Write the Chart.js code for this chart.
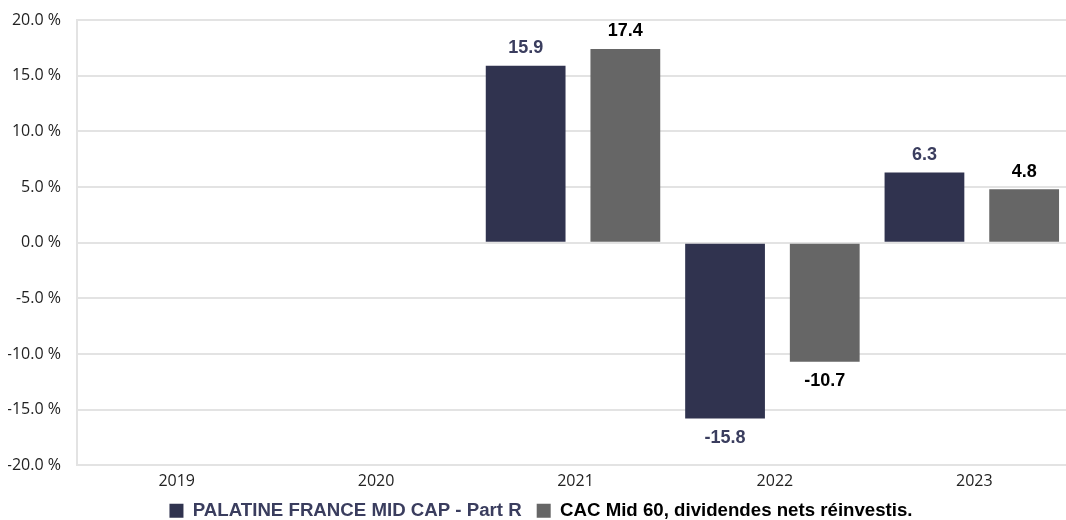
<!DOCTYPE html>
<html>
<head>
<meta charset="utf-8">
<script src="https://cdn.jsdelivr.net/npm/chart.js@4/dist/chart.umd.min.js"></script>
<style>
  html, body { margin: 0; padding: 0; background: #ffffff; overflow: hidden; }
  #wrap { position: relative; width: 1074px; height: 520px; }
  canvas { display: block; }
</style>
</head>
<body>
<div id="wrap"><canvas id="c" width="1074" height="520"></canvas></div>
<script>
const categories = ["2019", "2020", "2021", "2022", "2023"];
const fundValues = [null, null, 15.9, -15.8, 6.3];
const indexValues = [null, null, 17.4, -10.7, 4.8];
const seriesNames = ["PALATINE FRANCE MID CAP - Part R", "CAC Mid 60, dividendes nets réinvestis."];
const yTicks = [-20, -15, -10, -5, 0, 5, 10, 15, 20];

const fundColor = "#30334f";
const indexColor = "#666666";
const fundLabelColor = "#3a3d5e";
const indexLabelColor = "#000000";

const valueLabels = {
  id: "valueLabels",
  afterDatasetsDraw(chart) {
    const ctx = chart.ctx;
    ctx.save();
    ctx.font = "bold 18px 'Liberation Sans', Arial, sans-serif";
    ctx.textAlign = "center";
    ctx.textBaseline = "middle";
    chart.data.datasets.forEach((ds, di) => {
      const meta = chart.getDatasetMeta(di);
      meta.data.forEach((bar, i) => {
        const v = ds.data[i];
        if (v === null || v === undefined) return;
        ctx.fillStyle = di === 0 ? fundLabelColor : indexLabelColor;
        const y = v >= 0 ? bar.y - 17.5 : bar.y + 19;
        ctx.fillText(v.toFixed(1), bar.x, y);
      });
    });
    ctx.restore();
  }
};

new Chart(document.getElementById("c"), {
  type: "bar",
  data: {
    labels: categories,
    datasets: [
      { label: seriesNames[0], data: fundValues, backgroundColor: fundColor,
        categoryPercentage: 1.0, barPercentage: 0.80 },
      { label: seriesNames[1], data: indexValues, backgroundColor: indexColor,
        categoryPercentage: 1.0, barPercentage: 0.70 }
    ]
  },
  options: {
    responsive: false,
    animation: false,
    devicePixelRatio: 1,
    layout: { padding: { top: 20, right: 0, left: 8, bottom: -10 } },
    plugins: {
      tooltip: { enabled: false },
      legend: {
        position: "bottom",
        labels: {
          boxWidth: 14, boxHeight: 14, padding: 15,
          font: { family: "'Liberation Sans', Arial, sans-serif", size: 18.67, weight: "bold" },
          generateLabels(chart) {
            const items = Chart.defaults.plugins.legend.labels.generateLabels(chart);
            items.forEach((it, i) => { it.fontColor = i === 0 ? fundLabelColor : indexLabelColor; it.lineWidth = 0; });
            return items;
          }
        }
      }
    },
    scales: {
      x: {
        grid: { display: false, drawTicks: false },
        border: { display: false },
        ticks: { color: "#222222", padding: 7, font: { family: "'Open Sans', sans-serif", size: 16 } },
        afterFit(scale) { scale.height = 21; }
      },
      y: {
        min: -20, max: 20,
        afterBuildTicks(scale) { scale.ticks = yTicks.map(v => ({ value: v })); },
        grid: { color: "#e3e3e3", lineWidth: 2, drawTicks: false },
        border: { display: true, color: "#e3e3e3", width: 2 },
        ticks: {
          color: "#222222", padding: 16,
          font: { family: "'Open Sans', sans-serif", size: 16 },
          callback: (v) => v.toFixed(1) + " %"
        },
        afterFit(scale) { scale.width = 69; scale.paddingTop = 0; scale.paddingBottom = 0; }
      }
    }
  },
  plugins: [valueLabels]
});
</script>
</body>
</html>
